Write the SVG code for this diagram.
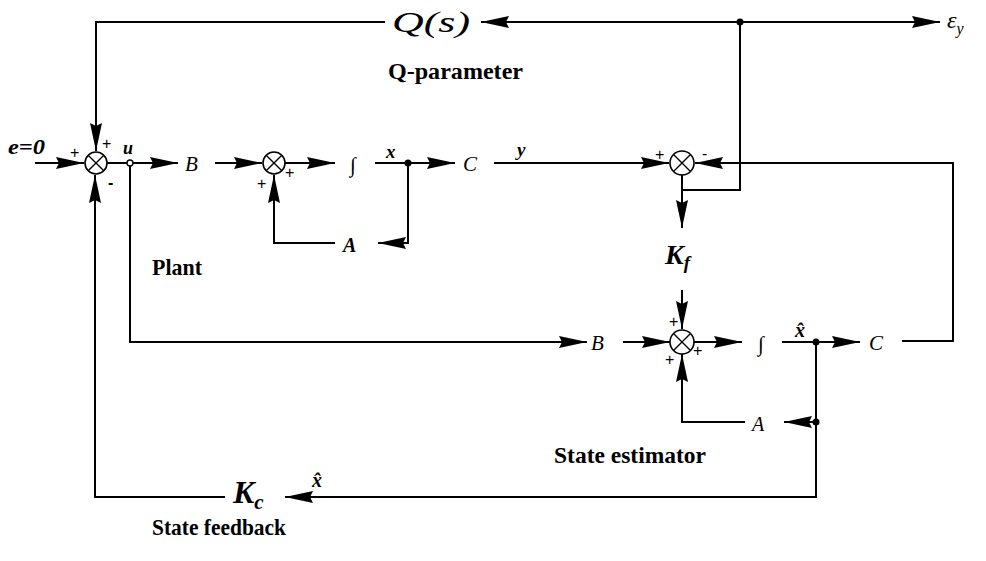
<svg xmlns="http://www.w3.org/2000/svg" width="986" height="561" viewBox="0 0 986 561">
<style>
.ln{fill:none;stroke:#000;stroke-width:2}
.sum{fill:#fff;stroke:#000;stroke-width:1.6}
.sx{stroke:#000;stroke-width:1.4}
.m{font-family:"Liberation Serif",serif;font-style:italic;fill:#000}
.mb{font-family:"Liberation Serif",serif;font-style:italic;font-weight:bold;fill:#000}
.lb{font-family:"Liberation Serif",serif;font-weight:bold;font-size:23px;fill:#000}
.sg{font-family:"Liberation Sans",sans-serif;font-size:16px;fill:#000}
</style>
<defs>
<marker id="ah" viewBox="0 0 28 12" refX="28" refY="6" markerWidth="28" markerHeight="12" orient="auto" markerUnits="userSpaceOnUse">
<path d="M0,0 L28,6 L0,12 L3,6 z" fill="#000"/>
</marker>
</defs>
<g id="connectors">
<path class="ln" d="M385,22 H96 V151" marker-end="url(#ah)"/>
<path class="ln" d="M740,22 H481" marker-end="url(#ah)"/>
<path class="ln" d="M740,22 H940" marker-end="url(#ah)"/>
<path class="ln" d="M35,163 H84" marker-end="url(#ah)"/>
<path class="ln" d="M107,163 H178" marker-end="url(#ah)"/>
<path class="ln" d="M215,163 H262" marker-end="url(#ah)"/>
<path class="ln" d="M285,163 H335" marker-end="url(#ah)"/>
<path class="ln" d="M375,163 H455" marker-end="url(#ah)"/>
<path class="ln" d="M408,163 V243 H378" marker-end="url(#ah)"/>
<path class="ln" d="M335,243 H274 V175" marker-end="url(#ah)"/>
<path class="ln" d="M494,163 H669" marker-end="url(#ah)"/>
<path class="ln" d="M902,341 H953 V163 H695" marker-end="url(#ah)"/>
<path class="ln" d="M740,22 V190 H682"/>
<path class="ln" d="M682,175 V228" marker-end="url(#ah)"/>
<path class="ln" d="M682,290 V329" marker-end="url(#ah)"/>
<path class="ln" d="M130,166 V342 H587" marker-end="url(#ah)"/>
<path class="ln" d="M623,342 H670" marker-end="url(#ah)"/>
<path class="ln" d="M694,342 H742" marker-end="url(#ah)"/>
<path class="ln" d="M782,342 H860" marker-end="url(#ah)"/>
<path class="ln" d="M816,342 V497 H285" marker-end="url(#ah)"/>
<path class="ln" d="M816,422 H784" marker-end="url(#ah)"/>
<path class="ln" d="M745,422 H682 V354" marker-end="url(#ah)"/>
<path class="ln" d="M225,497 H95 V175" marker-end="url(#ah)"/>
<circle cx="740" cy="22" r="3.5" fill="#000"/>
<circle cx="408" cy="163" r="3.5" fill="#000"/>
<circle cx="816" cy="342" r="3.5" fill="#000"/>
<circle cx="816" cy="422" r="3.5" fill="#000"/>
<circle cx="130" cy="163" r="3" fill="#fff" stroke="#000" stroke-width="1.4"/>
</g>
<g id="sum1">
<circle class="sum" cx="96" cy="163" r="11"/>
<path class="sx" d="M88.2,155.2 L103.8,170.8 M103.8,155.2 L88.2,170.8"/>
<text class="sg" x="70" y="158" font-size="18">+</text>
<text class="sg" x="102" y="149" font-size="18">+</text>
<text class="sg" x="108" y="188" font-weight="bold" font-size="18">-</text>
</g>
<g id="sum2">
<circle class="sum" cx="274" cy="163" r="11"/>
<path class="sx" d="M266.2,155.2 L281.8,170.8 M281.8,155.2 L266.2,170.8"/>
<text class="sg" x="257" y="189" font-size="14">+</text>
<text class="sg" x="285" y="178" font-size="14">+</text>
</g>
<g id="sum3">
<circle class="sum" cx="682" cy="163" r="12"/>
<path class="sx" d="M673.5,154.5 L690.5,171.5 M690.5,154.5 L673.5,171.5"/>
<text class="sg" x="655" y="160" font-size="15">+</text>
<text class="sg" x="702" y="159" font-size="15">-</text>
</g>
<g id="sum4">
<circle class="sum" cx="682" cy="342" r="12"/>
<path class="sx" d="M673.5,333.5 L690.5,350.5 M690.5,333.5 L673.5,350.5"/>
<text class="sg" x="669" y="327" font-size="14">+</text>
<text class="sg" x="665" y="365" font-size="14">+</text>
<text class="sg" x="693" y="356" font-size="14">+</text>
</g>
<g id="input"><text class="mb" x="8" y="154" font-size="20" textLength="37" lengthAdjust="spacingAndGlyphs">e=0</text></g>
<g id="u"><text class="mb" x="123" y="154" font-size="18">u</text></g>
<g id="B1"><text class="m" x="185" y="171" font-size="21">B</text></g>
<g id="int1"><text class="m" x="350" y="172" font-size="21">∫</text></g>
<g id="xlbl"><text class="mb" x="386" y="158" font-size="19">x</text></g>
<g id="C1"><text class="m" x="463" y="171" font-size="21">C</text></g>
<g id="ylbl"><text class="mb" x="517" y="156" font-size="19">y</text></g>
<g id="A1"><text class="mb" x="343" y="252" font-size="20">A</text></g>
<g id="plant"><text class="lb" x="152" y="275" textLength="50" lengthAdjust="spacingAndGlyphs">Plant</text></g>
<g id="Kf"><text class="mb" x="665" y="264" font-size="28">K<tspan font-size="19" dy="5">f</tspan></text></g>
<g id="B2"><text class="m" x="591" y="350" font-size="21">B</text></g>
<g id="int2"><text class="m" x="758" y="351" font-size="21">∫</text></g>
<g id="xhat1"><text class="mb" x="795" y="337" font-size="20">x&#x302;</text></g>
<g id="C2"><text class="m" x="869" y="350" font-size="21">C</text></g>
<g id="A2"><text class="m" x="752" y="431" font-size="20">A</text></g>
<g id="estimator"><text class="lb" x="554" y="463" textLength="152" lengthAdjust="spacingAndGlyphs">State estimator</text></g>
<g id="Kc"><text class="mb" x="233" y="503" font-size="32">K<tspan font-size="21" dy="6">c</tspan></text></g>
<g id="xhat2"><text class="mb" x="312" y="487" font-size="20">x&#x302;</text></g>
<g id="feedback"><text class="lb" x="152" y="535" textLength="134" lengthAdjust="spacingAndGlyphs">State feedback</text></g>
<g id="Q"><text class="m" x="392" y="32" font-size="30" textLength="78" lengthAdjust="spacingAndGlyphs">Q(s)</text></g>
<g id="qparam"><text class="lb" x="388" y="79" textLength="135" lengthAdjust="spacingAndGlyphs">Q-parameter</text></g>
<g id="eps"><text class="m" x="947" y="28" font-size="24">ε<tspan font-size="16" dy="6">y</tspan></text></g>
</svg>
